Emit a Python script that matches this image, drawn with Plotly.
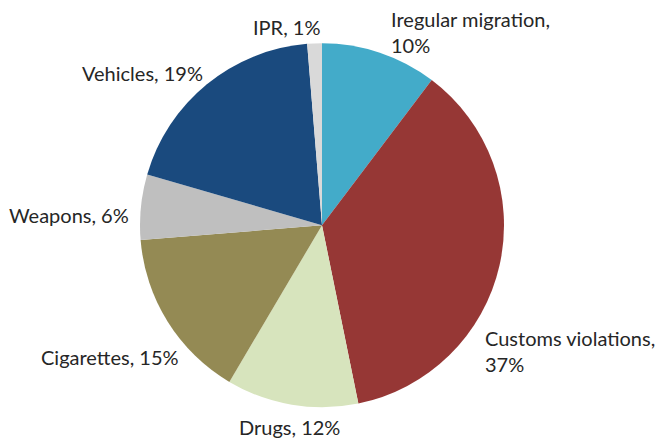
import plotly.graph_objects as go

# Share of detections by category (clockwise from 12 o'clock)
categories = ["Iregular migration", "Customs violations", "Drugs", "Cigarettes",
              "Weapons", "Vehicles", "IPR"]
shares = [10.3, 36.5, 11.7, 15.2, 5.8, 19.2, 1.3]    # slice sizes as drawn
label_pct = [10, 37, 12, 15, 6, 19, 1]                # percentages printed on labels
colors = ["#43ABC9", "#963735", "#D7E4BD", "#948A54", "#BFBFBF", "#1A4A7E", "#D9D9D9"]

W, H = 663, 439

fig = go.Figure(
    go.Pie(
        labels=categories, values=shares, sort=False, direction="clockwise",
        rotation=0, textinfo="none", hoverinfo="label+percent",
        marker=dict(colors=colors, line=dict(width=0)),
        domain=dict(x=[140 / W, 504 / W], y=[(H - 407.5) / H, (H - 43) / H]),
        showlegend=False,
    )
)

# Outside labels placed like the original (pixel positions -> paper coords)
label_pos = {
    "Iregular migration": (389, 32, "left"),
    "Customs violations": (483, 351, "left"),
    "Drugs": (289, 427, "center"),
    "Cigarettes": (181, 357, "right"),
    "Weapons": (131, 215, "right"),
    "Vehicles": (205, 73, "right"),
    "IPR": (322, 27, "right"),
}
two_line = {"Iregular migration", "Customs violations"}
for cat, pct in zip(categories, label_pct):
    px, py, anchor = label_pos[cat]
    sep = ",<br>" if cat in two_line else ", "
    fig.add_annotation(
        x=px / W, y=1 - py / H, xref="paper", yref="paper",
        text=f"{cat}{sep}{pct}%", showarrow=False,
        xanchor=anchor, yanchor="middle", align="left",
        font=dict(size=20, color="#262626"),
    )

fig.update_layout(
    width=W, height=H,
    margin=dict(l=0, r=0, t=0, b=0),
    paper_bgcolor="white", plot_bgcolor="white",
    font=dict(family="Lato, Open Sans, sans-serif"),
)
# drop the browser's default body margin so the figure sits at the page corner
fig.write_html("out.html", config={"displayModeBar": False},
               post_script="document.body.style.margin='0';")
